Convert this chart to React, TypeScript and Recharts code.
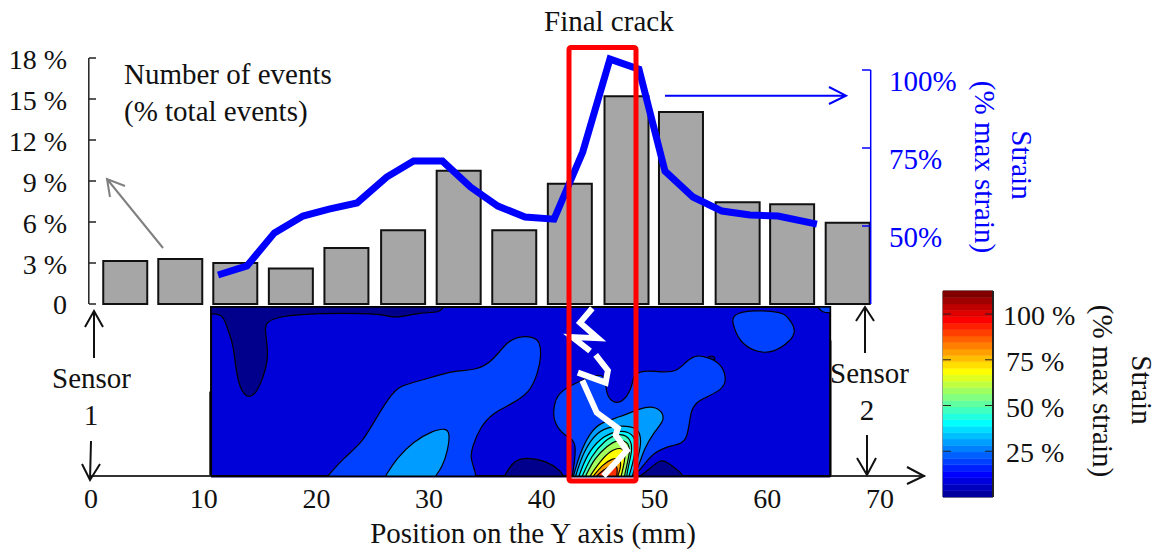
import { Bar, BarChart, ComposedChart, Line, ReferenceArea, ReferenceLine, Scatter, ScatterChart, XAxis, YAxis } from "recharts"

const WIDTH = 1158
const HEIGHT = 552
const SERIF = '"Liberation Serif", serif'
const BLUE = "#0000ff"

// events histogram
const binCenters = [3.1, 8.05, 13, 18, 23, 28.1, 33.1, 38.1, 43.1, 48.2, 53.1, 58.2, 63.1, 68.1]
const eventShares = [3.15, 3.3, 3.0, 2.6, 4.1, 5.4, 9.75, 5.4, 8.8, 15.2, 14.05, 7.45, 7.3, 5.95]
const eventTicks = [0, 3, 6, 9, 12, 15, 18]

// strain along the Y axis
const strainPositions = [11.43, 14.03, 16.5, 19.07, 21.41, 23.93, 26.6, 29.02, 31.62, 34.15, 36.6, 39.05, 41.66, 44.24, 46.69, 49.3, 51.64, 54.16, 56.77, 59.29, 61.81, 65.31]
const strainValues = [34.3, 37.2, 47.8, 53.2, 55.4, 57.4, 65.7, 70.8, 70.8, 62.5, 56.4, 52.9, 52.2, 73.7, 103.5, 100.3, 67.6, 59.3, 54.8, 53.5, 53.2, 50.6]
const strainTicks = [50, 75, 100]

const positionTicks = [0, 10, 20, 30, 40, 50, 60, 70]
const colorbarTicks = [25, 50, 75, 100]
const colorbarLevels = [
  "#00009f", "#0000bf", "#0000df", "#0000ff", "#0020ff", "#0040ff", "#0060ff", "#0080ff",
  "#009fff", "#00bfff", "#00dfff", "#00ffff", "#20ffdf", "#40ffbf", "#60ff9f", "#80ff80",
  "#9fff60", "#bfff40", "#dfff20", "#ffff00", "#ffdf00", "#ffbf00", "#ff9f00", "#ff8000",
  "#ff6000", "#ff4000", "#ff2000", "#ff0000", "#df0000", "#bf0000", "#9f0000", "#800000",
]
const colorbarMax = 112.6

// strain field contours, [position mm, height mm]
const fieldOutline = [[10.8, 0], [10.8, 15.2], [66.5, 15.2], [66.5, 0]]
const darkTop = [[10.8, 15.2], [31.7, 15.2], [31.4, 14.7], [29.6, 14.7], [27.8, 14.3], [26.9, 14.3], [25.8, 14.7], [15.5, 14.6], [15.7, 12.9], [16, 10.7], [15.5, 8.9], [14.9, 7.5], [14.2, 7], [13.6, 7.5], [13.1, 8.9], [12.8, 12], [12.3, 13.1], [11.9, 14.6], [10.8, 14.6]]
const darkBottomLeft = [[37.2, 0], [38, 1.4], [39.2, 1.7], [41, 1.35], [42.2, 0.5], [42.5, 0]]
const darkBottomRight = [[49.4, 0], [50.1, 0.5], [51.2, 1.5], [51.8, 1.3], [53.2, 0.2], [53.2, 0]]
const darkSpot = [[55.3, 10.6], [55.8, 10.9], [56.3, 10.6], [55.8, 10.35]]
const midLeft = [[21.3, 0], [22.7, 1.6], [24.4, 3], [25.4, 4.8], [27.2, 7.7], [28.1, 8.2], [30.8, 8.9], [32.6, 9.5], [34.7, 9.5], [36.2, 10.4], [37.4, 12.1], [38.6, 12.6], [39.8, 12.5], [40.4, 12.1], [40.5, 10.7], [40.2, 9.3], [39.5, 7.5], [37.7, 6.4], [36.2, 5.7], [35, 4.4], [34.3, 2.6], [34.1, 1.7], [34.6, 0.3], [34.6, 0]]
const midCenter = [[41.6, 6.2], [42, 7.5], [43.6, 8.4], [46.1, 9.4], [46.3, 8.4], [46.4, 7.1], [47.3, 6.4], [48.3, 7.1], [48.8, 8.6], [48.8, 9.1], [49.7, 9.5], [50.9, 9.4], [52.7, 9.3], [53.6, 10.4], [54.5, 10.9], [55.4, 10.7], [56.6, 10.2], [57.2, 8.9], [56.9, 7.7], [54.5, 6.8], [53.9, 5.9], [53.7, 3], [52.4, 2.8], [50.6, 2.2], [49.4, 0.5], [48.8, 0], [43.3, 0], [43.8, 3.2], [42.7, 3.5], [41.6, 4.8]]
const midTopRight = [[57.5, 14.9], [57.8, 13.4], [58.4, 12], [59.9, 11.1], [61.4, 11.1], [62.9, 12.1], [63.5, 13.1], [62.7, 14.3], [62, 14.9]]
const midCorner = [[65.4, 15.2], [65.8, 14.7], [66.5, 14.7], [66.5, 15.2]]
const lightLeft = [[26.5, 0], [27.5, 1.6], [29, 3.1], [30.8, 4.1], [31.9, 4.3], [32.3, 3.9], [32.1, 2.3], [31.6, 0.8], [31, 0]]
const lightCenter = [[43.4, 0], [44, 2.1], [44.9, 3.9], [45.8, 4.8], [47.6, 5.3], [49.4, 6.1], [50.6, 6.3], [51.4, 5.8], [51.6, 5], [50.6, 3.9], [49.7, 2.3], [49.4, 1.2], [48.8, 0]]
const fan1 = [[43.6, 0], [44.3, 2.2], [45.5, 4], [46.9, 4.5], [48.7, 4.5], [49.4, 4], [49.5, 2.8], [49.1, 1.3], [48.7, 0]]
const fan2 = [[43.9, 0], [44.6, 1.9], [45.8, 3.4], [47.2, 4.05], [48.3, 4.05], [49, 3.4], [49, 2.3], [48.7, 1], [48.4, 0]]
const fan3 = [[44.2, 0], [45, 1.8], [46.2, 3.2], [47.3, 3.8], [48.2, 3.7], [48.7, 2.9], [48.6, 1.9], [48.3, 0.7], [48.2, 0]]
const fan4 = [[44.5, 0], [45.3, 1.6], [46.4, 2.7], [47.4, 3.3], [48.3, 3.1], [48.5, 2.3], [48.3, 1.4], [48, 0]]
const fan5 = [[44.9, 0], [45.8, 1.3], [46.7, 2.25], [47.6, 2.6], [48.1, 2.2], [48, 1.3], [47.7, 0]]
const fan6 = [[45.2, 0], [46, 1], [46.9, 1.6], [47.6, 1.6], [47.7, 0.9], [47.4, 0]]
const fan7 = [[45.5, 0], [46.1, 0.55], [46.9, 1], [47.4, 0.9], [47.3, 0]]

const crackTop = [[45.1, 15.1], [44, 13.8], [45.6, 12.4], [43.3, 12.5], [44.9, 11.25]]
const crackMiddle = [[45.4, 10.9], [46.5, 9.5], [46.3, 8.4], [43.8, 9.3]]
const crackBottom = [[44.2, 8.6], [45.5, 5.7], [47.4, 4.3], [47.2, 3.7], [48.2, 2.3], [46.1, 0]]

const fieldLayers: [number[][], string][] = [
  [fieldOutline, "#0000d8"],
  [darkTop, "#00008c"],
  [darkBottomLeft, "#00008c"],
  [darkBottomRight, "#00008c"],
  [darkSpot, "#00008c"],
  [midLeft, "#0040ff"],
  [midCenter, "#0040ff"],
  [midTopRight, "#0040ff"],
  [midCorner, "#0040ff"],
  [lightLeft, "#009cff"],
  [lightCenter, "#009cff"],
  [fan1, "#00c4ff"],
  [fan2, "#00ffff"],
  [fan3, "#40ffbf"],
  [fan4, "#a4ff5c"],
  [fan5, "#ffff00"],
  [fan6, "#ffa000"],
  [fan7, "#ff3000"],
]
const crackSegments = [crackTop, crackMiddle, crackBottom]

const eventRows = binCenters.map((pos, i) => ({ pos, share: eventShares[i] }))
const strainRows = strainPositions.map((pos, i) => ({ pos, strain: strainValues[i] }))
const toRows = (points: number[][]) => points.map(([pos, h]) => ({ pos, h }))
const tickRows = positionTicks.map((pos) => ({ pos, h: 0 }))
const colorbarRow = [Object.fromEntries(colorbarLevels.map((_, i) => [`l${i}`, colorbarMax / colorbarLevels.length]))]

// the spline rounds every contour, points on the border of the field have to stay there
const pinEdges = (points: number[][]) =>
  points.flatMap((p) => (p[1] === 0 || p[1] >= 15.2 || p[0] === 10.8 || p[0] === 66.5 ? [p, p, p] : [p]))

const layer = { position: "absolute", left: 0, top: 0 } as const
const NoPoint = () => <g />

const EventTick = ({ y, payload }: any) => (
  <g>
    <line x1={89} x2={96} y1={y} y2={y} stroke="#222" strokeWidth={1.5} />
    <text x={67} y={y + (payload.value ? 11 : 10)} textAnchor="end" fontFamily={SERIF} fontSize={28} fill="#111">
      {payload.value ? `${payload.value} %` : "0"}
    </text>
  </g>
)

const StrainTick = ({ y, payload }: any) => (
  <g>
    <line x1={862} x2={870.7} y1={y} y2={y} stroke={BLUE} strokeWidth={1.5} />
    <text x={889} y={y + 21} fontFamily={SERIF} fontSize={29} fill={BLUE}>{`${payload.value}%`}</text>
  </g>
)

const PositionTick = ({ x, payload }: any) => (
  <text x={x} y={508} textAnchor="middle" fontFamily={SERIF} fontSize={28} fill="#111">{payload.value}</text>
)

const ColorbarTick = ({ y, payload }: any) => (
  <g>
    <line x1={943} x2={951} y1={y} y2={y} stroke="#222" strokeWidth={1} />
    <line x1={985} x2={993} y1={y} y2={y} stroke="#222" strokeWidth={1} />
    <text x={payload.value === 100 ? 1003 : 1006} y={y + 11} fontFamily={SERIF} fontSize={28} fill="#111">{`${payload.value} %`}</text>
  </g>
)

// hand placed notes of the figure
const Note = ({ x, y, color = "#111", rotate, anchor, children }: any) => (
  <text
    x={x}
    y={y}
    fill={color}
    fontFamily={SERIF}
    fontSize={29}
    textAnchor={anchor}
    transform={rotate ? `rotate(90 ${x} ${y})` : undefined}
  >
    {children}
  </text>
)

const Arrow = ({ d, color = "#111", width = 2 }: any) => <path d={d} fill="none" stroke={color} strokeWidth={width} />

function Annotations() {
  return (
    <svg width={WIDTH} height={HEIGHT} style={layer}>
      <rect x={569} y={47.5} width={67} height={433.5} rx={2} fill="none" stroke="#ff0000" strokeWidth={5} />
      <Note x={544} y={31}>Final crack</Note>
      <Note x={124} y={84}>Number of events</Note>
      <Note x={124} y={121}>(% total events)</Note>
      <Note x={533} y={543} anchor="middle">Position on the Y axis (mm)</Note>
      <Note x={52} y={388}>Sensor</Note>
      <Note x={91} y={425} anchor="middle">1</Note>
      <Note x={830} y={383}>Sensor</Note>
      <Note x={867} y={420} anchor="middle">2</Note>
      <Note x={975} y={167} color={BLUE} anchor="middle" rotate>(% max strain)</Note>
      <Note x={1012} y={165} color={BLUE} anchor="middle" rotate>Strain</Note>
      <Note x={1093} y={391} anchor="middle" rotate>(% max strain)</Note>
      <Note x={1132} y={390} anchor="middle" rotate>Strain</Note>
      <Arrow d="M163 248 L107 179 M125 186 L107 179 L110 197" color="#808080" />
      <Arrow d="M665 95.7 L846 95.7 M829 87 L846 95.7 L829 104" color={BLUE} />
      <Arrow d="M94 358 L94 311 M85 327 L94 311 L103 327" />
      <Arrow d="M91 441 L90 480 M82 464 L90 480 L100 464" />
      <Arrow d="M865 353 L865 307 M856 321 L865 307 L874 321" />
      <Arrow d="M867 435 L867 475 M857 458 L867 475 L876 458" />
      <Arrow d="M907 467 L924 476 L907 484" />
    </svg>
  )
}

export default function App() {
  return (
    <div style={{ ...layer, width: WIDTH, height: HEIGHT, background: "#fff" }}>
      <div style={layer}>
        <ScatterChart width={WIDTH} height={HEIGHT} margin={{ top: 307, right: 233, bottom: 36, left: 91 }}>
          <XAxis xAxisId="field" type="number" dataKey="pos" domain={[0, 75.03]} height={0} hide />
          <XAxis
            xAxisId="ticks"
            type="number"
            dataKey="pos"
            domain={[0, 74]}
            ticks={positionTicks}
            interval={0}
            height={40}
            tickLine={false}
            tick={PositionTick}
            axisLine={{ stroke: "#333", strokeWidth: 2 }}
          />
          <YAxis type="number" dataKey="h" domain={[0, 15.21]} hide />
          <Scatter xAxisId="ticks" data={tickRows} shape={NoPoint} isAnimationActive={false} />
          {fieldLayers.map(([points, fill], i) => (
            <Scatter
              key={i}
              xAxisId="field"
              data={toRows(pinEdges(points))}
              shape={NoPoint}
              line={{ fill, stroke: "#000", strokeWidth: i === 0 ? 2 : 1.2 }}
              lineJointType="basisClosed"
              isAnimationActive={false}
            />
          ))}
          {crackSegments.map((points, i) => (
            <Scatter
              key={i}
              xAxisId="field"
              data={toRows(points)}
              shape={NoPoint}
              line={{ fill: "none", stroke: "#fff", strokeWidth: 6 }}
              lineJointType="linear"
              isAnimationActive={false}
            />
          ))}
          <ReferenceLine xAxisId="field" segment={[{ x: 10.8, y: 0 }, { x: 10.8, y: 7.6 }]} stroke="#000" strokeWidth={3.5} ifOverflow="visible" />
          <ReferenceLine xAxisId="field" segment={[{ x: 66.5, y: 0 }, { x: 66.5, y: 12.2 }]} stroke="#000" strokeWidth={2.5} ifOverflow="visible" />
          <ReferenceLine xAxisId="field" segment={[{ x: 10.8, y: 0 }, { x: 66.5, y: 0 }]} stroke="#00005a" strokeWidth={3} ifOverflow="visible" />
        </ScatterChart>
      </div>

      <div style={layer}>
        <ComposedChart width={WIDTH} height={HEIGHT} data={eventRows} margin={{ top: 58, right: 207.3, bottom: 248, left: 8.8 }}>
          <XAxis xAxisId="bins" type="number" dataKey="pos" domain={[-0.2, 70.15]} height={0} hide />
          <XAxis xAxisId="strainPos" type="number" dataKey="pos" domain={[-0.2, 70.15]} height={0} hide />
          <YAxis
            yAxisId="events"
            domain={[0, 18]}
            ticks={eventTicks}
            interval={0}
            width={80}
            tickLine={false}
            tick={EventTick}
            axisLine={{ stroke: "#222", strokeWidth: 1.5 }}
          />
          <YAxis
            yAxisId="strain"
            orientation="right"
            domain={[25, 103.85]}
            ticks={strainTicks}
            interval={0}
            width={80}
            tickLine={false}
            axisLine={false}
            tick={StrainTick}
          />
          <Bar xAxisId="bins" yAxisId="events" dataKey="share" barSize={44} fill="#a6a6a6" stroke="#111" strokeWidth={2} isAnimationActive={false} />
          <ReferenceLine
            xAxisId="strainPos"
            yAxisId="strain"
            segment={[{ x: 70.15, y: 25 }, { x: 70.15, y: 100 }]}
            stroke={BLUE}
            strokeWidth={1.5}
            ifOverflow="visible"
          />
          <Line xAxisId="strainPos" yAxisId="strain" data={strainRows} dataKey="strain" type="linear" stroke={BLUE} strokeWidth={7} dot={false} isAnimationActive={false} />
        </ComposedChart>
      </div>

      <div style={layer}>
        <BarChart width={WIDTH} height={HEIGHT} data={colorbarRow} barCategoryGap={0} margin={{ top: 291, right: 65, bottom: 55, left: 943 }}>
          <XAxis hide />
          <YAxis
            orientation="right"
            type="number"
            domain={[0, colorbarMax]}
            ticks={colorbarTicks}
            interval={0}
            width={100}
            tickLine={false}
            tick={ColorbarTick}
            axisLine={{ stroke: "#222", strokeWidth: 2 }}
          />
          {colorbarLevels.map((color, i) => (
            <Bar key={color} dataKey={`l${i}`} stackId="levels" fill={color} stroke={color} strokeWidth={0.5} isAnimationActive={false} />
          ))}
          <ReferenceArea y1={0} y2={colorbarMax} fill="none" stroke="#222" strokeWidth={1} />
        </BarChart>
      </div>

      <Annotations />
    </div>
  )
}
